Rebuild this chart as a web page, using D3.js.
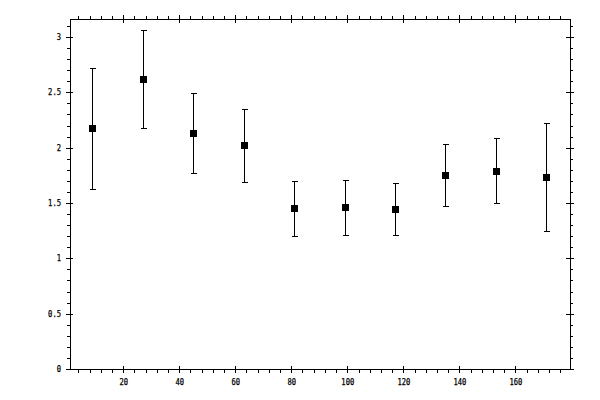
<!DOCTYPE html>
<html>
<head>
<meta charset="utf-8">
<script src="https://cdn.jsdelivr.net/npm/d3@7"></script>
<style>
  body { margin: 0; background: #fff; }
  svg { display: block; }
  .axis text { font-family: "DejaVu Sans Mono", monospace; font-size: 8px; fill: #000; }
  .axis line, .axis path { stroke: #000; shape-rendering: crispEdges; }
</style>
</head>
<body>
<div id="chart"></div>
<script>
// data
const angles = [9, 27, 45, 63, 81, 99, 117, 135, 153, 171];
const means  = [2.175, 2.618, 2.13, 2.021, 1.452, 1.461, 1.443, 1.75, 1.786, 1.732];
const upper  = [2.723, 3.06, 2.491, 2.347, 1.696, 1.705, 1.678, 2.03, 2.085, 2.22];
const lower  = [1.624, 2.175, 1.768, 1.687, 1.199, 1.208, 1.208, 1.47, 1.497, 1.244];

const xMajor = [20, 40, 60, 80, 100, 120, 140, 160];
const xMinor = d3.range(4, 177, 4);
const yMajor = [0, 0.5, 1, 1.5, 2, 2.5, 3];
const yMinor = d3.range(0, 32).map(d => d / 10);

const margin = {top: 19, right: 30, bottom: 31, left: 70};
const width = 600 - margin.left - margin.right;   // 500
const height = 400 - margin.top - margin.bottom;  // 350

const svg = d3.select("#chart").append("svg")
    .attr("width", 600)
    .attr("height", 400)
    .append("g")
    .attr("transform", `translate(${margin.left}, ${margin.top})`);

const x = d3.scaleLinear().domain([1, 179.5]).range([0, width]);
const y = d3.scaleLinear().domain([0, 3.163]).range([height, 0]);

// helper: draw one set of ticks on a side
function ticks(axisFn, scale, values, size, labels, transform) {
    let ax = axisFn(scale).tickValues(values).tickSizeInner(size).tickSizeOuter(0);
    if (!labels) ax.tickFormat("");
    else ax.tickFormat(d3.format("")).tickPadding(5);
    let g = svg.append("g")
        .attr("class", "axis")
        .attr("transform", transform)
        .call(ax);
    g.select(".domain").remove();
    return g;
}

// bottom
let gb = ticks(d3.axisBottom, x, xMajor, 4, true, `translate(0, ${height})`);
gb.selectAll("text").attr("dy", "0.9em");
ticks(d3.axisBottom, x, xMajor, -3, false, `translate(0, ${height})`);
ticks(d3.axisBottom, x, xMinor, 4, false, `translate(0, ${height})`);
// top
ticks(d3.axisTop, x, xMajor, 4, false, "translate(0, 0)");
ticks(d3.axisTop, x, xMajor, -4, false, "translate(0, 0)");
ticks(d3.axisTop, x, xMinor, 3, false, "translate(0, 0)");
// left
let gl = ticks(d3.axisLeft, y, yMajor, 4, true, "translate(0, 0)");
ticks(d3.axisLeft, y, yMajor, -3, false, "translate(0, 0)");
ticks(d3.axisLeft, y, yMinor, 3, false, "translate(0, 0)");
// right
ticks(d3.axisRight, y, yMajor, 4, false, `translate(${width}, 0)`);
ticks(d3.axisRight, y, yMajor, -4, false, `translate(${width}, 0)`);
ticks(d3.axisRight, y, yMinor, 3, false, `translate(${width}, 0)`);

// squeeze the labels a bit, the original font is narrow
svg.selectAll(".axis text")
    .attr("textLength", function() { return this.textContent.length * 4.3; })
    .attr("lengthAdjust", "spacingAndGlyphs")
    .style("stroke", "#000")
    .style("stroke-width", 0.25);

// frame
svg.append("rect")
    .attr("x", 0.5)
    .attr("y", 0.5)
    .attr("width", width)
    .attr("height", height)
    .attr("fill", "none")
    .attr("stroke", "#000")
    .style("shape-rendering", "crispEdges");

const pts = angles.map((a, i) => ({a: a, m: means[i], hi: upper[i], lo: lower[i]}));
const cap = 3;
const px = v => Math.round(v) + 0.5;

let bars = svg.append("g").selectAll("g")
    .data(pts)
    .enter().append("g")
    .attr("stroke", "#000")
    .attr("stroke-width", 1)
    .style("shape-rendering", "crispEdges");

bars.append("line")
    .attr("x1", d => px(x(d.a))).attr("x2", d => px(x(d.a)))
    .attr("y1", d => px(y(d.hi))).attr("y2", d => px(y(d.lo)));
bars.append("line")
    .attr("x1", d => px(x(d.a)) - cap).attr("x2", d => px(x(d.a)) + cap)
    .attr("y1", d => px(y(d.hi))).attr("y2", d => px(y(d.hi)));
bars.append("line")
    .attr("x1", d => px(x(d.a)) - cap).attr("x2", d => px(x(d.a)) + cap)
    .attr("y1", d => px(y(d.lo))).attr("y2", d => px(y(d.lo)));

// square markers, 7px, centred on the bar line
svg.append("g").selectAll("rect")
    .data(pts)
    .enter().append("rect")
    .attr("x", d => Math.round(x(d.a)) - 3)
    .attr("y", d => Math.round(y(d.m)) - 3)
    .attr("width", 7)
    .attr("height", 7)
    .attr("fill", "#000")
    .style("shape-rendering", "crispEdges");
</script>
</body>
</html>
